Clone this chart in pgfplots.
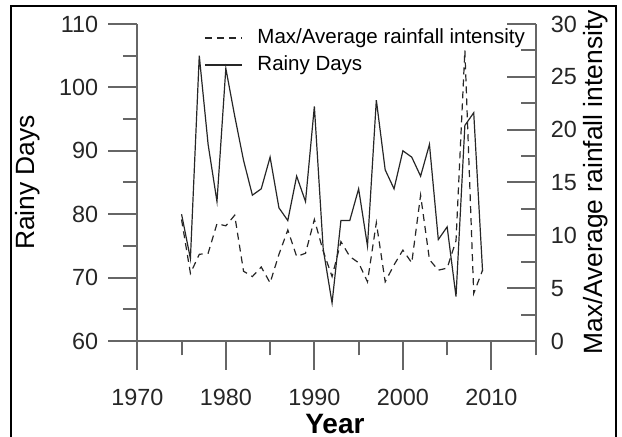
\documentclass[border=0pt]{standalone}
\usepackage{fontspec}
\setmainfont{Liberation Sans}
\usepackage{pgfplots}
\usepackage{pgfplotstable}
\pgfplotsset{compat=1.18}

% year, rainy days (left axis), max/average rainfall intensity (right axis)
\pgfplotstableread{
year days ratio
1975 80 11.5
1976 73 6.4
1977 105 8.2
1978 91 8.3
1979 82 11.1
1980 103 10.9
1981 95.5 11.9
1982 88.5 6.6
1983 83 6.1
1984 84 7.0
1985 89 5.5
1986 81 8.2
1987 79 10.5
1988 86 8.0
1989 82 8.3
1990 97 11.5
1991 74.5 8.5
1992 66 6.1
1993 79 9.4
1994 79 8.0
1995 84 7.4
1996 75 5.6
1997 98 11.2
1998 87 5.6
1999 84 7.2
2000 90 8.6
2001 89 7.4
2002 86 13.8
2003 91 7.7
2004 76 6.7
2005 78 6.9
2006 67 9.5
2007 94 27.5
2008 96 4.5
2009 71 6.7
}\rainfall

\pgfplotsset{
  rain axis/.style={
    scale only axis, width=199.2pt, height=158.5pt,
    xmin=1970, xmax=2015,
    axis line style={line width=1pt, black!60},
    every tick/.style={line width=1pt, black!60},
    major tick length=14.5pt, minor tick length=7.25pt,
    tick label style={font=\fontsize{11.7}{13}\selectfont, black!85},
    label style={font=\fontsize{13.2}{15}\selectfont},
    /pgf/number format/assume math mode=true,
    /pgf/number format/1000 sep={},
  },
}

\begin{document}
\begin{tikzpicture}
\useasboundingbox (-68.65pt,-48pt) rectangle (242.35pt,170.5pt);
\draw[line width=1.2pt] (-63.2pt,-50pt) -- (-63.2pt,167.5pt) -- (239.3pt,167.5pt) -- (239.3pt,-50pt);

\begin{axis}[rain axis,
  axis x line*=bottom, axis y line*=left, tick align=outside,
  ymin=60, ymax=110,
  xtick={1970,1980,...,2010}, minor xtick={1975,1985,...,2015},
  ytick={60,70,...,110}, minor ytick={65,75,...,105},
  xticklabel style={yshift=-6.3pt},
  yticklabel style={xshift=-1.5pt},
  xlabel={Year},
  xlabel style={font=\fontsize{14}{16}\selectfont\bfseries, text depth=0pt, at={(axis description cs:0.496,-0.262)}, anchor=center},
  ylabel={Rainy Days},
  ylabel style={at={(axis description cs:-0.276,0.5)}, anchor=center},
  legend style={at={(axis description cs:0.152,1.003)}, anchor=north west, draw=none, fill=none,
    font=\fontsize{10.25}{12}\selectfont, row sep=3pt,
    nodes={inner sep=0pt, text height=8pt, text depth=2.5pt}},
  legend cell align=left,
  legend image code/.code={\draw[#1] (0pt,0pt) -- (18.5pt,0pt);},
  legend style={column sep=7.5pt},
]
\addlegendimage{black!85, line width=0.6pt, dash pattern=on 3.5pt off 2.5pt}
\addlegendentry{Max/Average rainfall intensity}
\addplot[black!85, line width=0.6pt, mark=none] table[x=year, y=days] {\rainfall};
\addlegendentry{Rainy Days}
\end{axis}

\begin{axis}[rain axis,
  axis x line=none, axis y line*=right, tick align=inside,
  ymin=0, ymax=30,
  ytick={0,5,...,30}, minor ytick={2.5,7.5,...,27.5},
  yticklabel style={xshift=4pt},
  ylabel={Max/Average rainfall intensity},
  ylabel style={at={(axis description cs:1.151,0.5)}, anchor=center, rotate=0},
]
\addplot[black!85, line width=0.6pt, mark=none, dash pattern=on 3.5pt off 2.5pt] table[x=year, y=ratio] {\rainfall};
\end{axis}
\end{tikzpicture}
\end{document}
